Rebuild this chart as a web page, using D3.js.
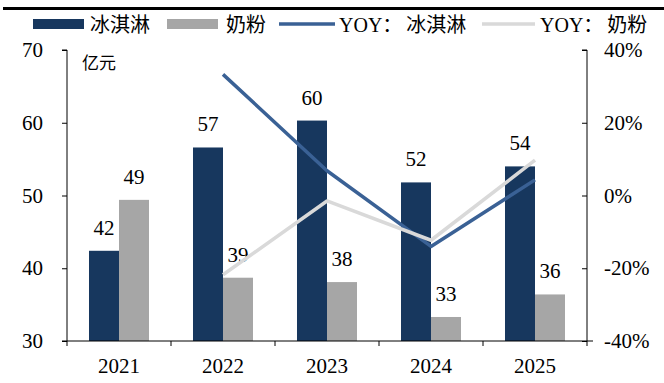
<!DOCTYPE html>
<html>
<head>
<meta charset="utf-8">
<script src="https://cdn.jsdelivr.net/npm/d3@7"></script>
<style>
  html, body { margin: 0; padding: 0; background: #fff; }
  svg { display: block; }
  text { font-family: "Liberation Serif", "Noto Sans CJK SC", serif; fill: #000; }
</style>
</head>
<body>
<svg id="chart" width="664" height="383"></svg>
<script>
// Sales (亿元) by year
const years = ["2021", "2022", "2023", "2024", "2025"];
const iceCream = [42.4, 56.6, 60.3, 51.8, 54.0];
const milkPowder = [49.4, 38.7, 38.1, 33.3, 36.4];
// Year-over-year growth (%)
const iceCreamYoy = [null, 33.3, 6.8, -14.0, 4.3];
const milkPowderYoy = [null, -21.8, -1.5, -12.3, 9.7];
// Axis ticks
const leftTicks = [30, 40, 50, 60, 70];
const rightTicks = [-40, -20, 0, 20, 40];

const seriesNames = ["冰淇淋", "奶粉"];
const colors = { ice: "#17375E", milk: "#A6A6A6", iceLine: "#3A6195", milkLine: "#D9D9D9" };
const numFont = 21;

const svg = d3.select("#chart");
const plot = { left: 67, right: 587, top: 50, bottom: 341 };

const x = d3.scaleBand().domain(years).range([plot.left, plot.right]).padding(0);
const xSub = d3.scaleBand().domain(seriesNames).range([0, x.bandwidth()])
  .paddingInner(0).paddingOuter(0.733);
const y = d3.scaleLinear().domain([30, 70]).range([plot.bottom, plot.top]);
const yR = d3.scaleLinear().domain([-40, 40]).range([plot.bottom, plot.top]);

// Top rule
svg.append("line").attr("x1", 3).attr("x2", 664).attr("y1", 8.5).attr("y2", 8.5)
  .attr("stroke", "#000").attr("stroke-width", 3);

// Bars
const barData = [
  { name: "冰淇淋", values: iceCream, color: colors.ice },
  { name: "奶粉", values: milkPowder, color: colors.milk }
];
barData.forEach(s => {
  svg.append("g").selectAll("rect").data(s.values).join("rect")
    .attr("x", (d, i) => x(years[i]) + xSub(s.name))
    .attr("width", xSub.bandwidth())
    .attr("y", d => y(d))
    .attr("height", d => y(30) - y(d))
    .attr("fill", s.color);
  svg.append("g").selectAll("text").data(s.values).join("text")
    .attr("x", (d, i) => x(years[i]) + xSub(s.name) + xSub.bandwidth() / 2)
    .attr("y", d => y(d) - 16)
    .attr("text-anchor", "middle")
    .attr("font-size", numFont)
    .text(d => d3.format(".0f")(d));
});

// YoY lines
const cx = i => x(years[i]) + x.bandwidth() / 2;
const line = d3.line().defined(d => d.v != null).x(d => cx(d.i)).y(d => yR(d.v));
[[iceCreamYoy, colors.iceLine], [milkPowderYoy, colors.milkLine]].forEach(([vals, c]) => {
  svg.append("path").datum(vals.map((v, i) => ({ v, i })))
    .attr("d", line).attr("fill", "none").attr("stroke", c)
    .attr("stroke-width", 3.5).attr("stroke-linejoin", "round");
});

// Left axis
const gL = svg.append("g").attr("transform", `translate(${plot.left},0)`)
  .call(d3.axisLeft(y).tickValues(leftTicks).tickSize(5).tickPadding(19).tickFormat(d3.format("d")));
gL.select(".domain").attr("d", `M-5,${plot.top}H0V${plot.bottom}`);
gL.selectAll("text").attr("font-size", numFont).attr("font-family", "Liberation Serif");

// Right axis
const gR = svg.append("g").attr("transform", `translate(${plot.right},0)`)
  .call(d3.axisRight(yR).tickValues(rightTicks).tickSize(-5).tickPadding(17).tickFormat(d => d + "%"));
gR.select(".domain").attr("d", `M-5,${plot.top}H0V${plot.bottom}`);
gR.selectAll("text").attr("font-size", numFont).attr("font-family", "Liberation Serif");

// Bottom axis: labels at band centres, ticks at band edges
const gB = svg.append("g").attr("transform", `translate(0,${plot.bottom})`)
  .call(d3.axisBottom(x).tickSize(0).tickPadding(17));
gB.select(".domain").remove();
gB.selectAll("text").attr("font-size", numFont).attr("font-family", "Liberation Serif");
gB.append("line").attr("x1", plot.left - 5).attr("x2", plot.right + 6)
  .attr("stroke", "#000");
const edges = years.map(d => x(d)).concat([plot.right]);
gB.selectAll(".edge").data(edges).join("line").attr("class", "edge")
  .attr("x1", d => d).attr("x2", d => d).attr("y1", 0).attr("y2", 5)
  .attr("stroke", "#000");

// Unit label
svg.append("text").attr("x", 82).attr("y", 69).attr("font-size", 17)
  .attr("font-family", "Noto Sans CJK SC").text("亿元");

// Legend
const lg = svg.append("g").attr("font-size", 20);
lg.append("rect").attr("x", 33).attr("y", 19).attr("width", 51).attr("height", 10).attr("fill", colors.ice);
lg.append("text").attr("x", 90).attr("y", 32).text("冰淇淋");
lg.append("rect").attr("x", 167).attr("y", 19).attr("width", 51).attr("height", 10).attr("fill", colors.milk);
lg.append("text").attr("x", 226).attr("y", 32).text("奶粉");
lg.append("line").attr("x1", 279).attr("x2", 335).attr("y1", 24).attr("y2", 24)
  .attr("stroke", colors.iceLine).attr("stroke-width", 3.5);
lg.append("text").attr("x", 339).attr("y", 32).text("YOY：").append("tspan").attr("dx", 4).text("冰淇淋");
lg.append("line").attr("x1", 482).attr("x2", 535).attr("y1", 24).attr("y2", 24)
  .attr("stroke", colors.milkLine).attr("stroke-width", 3.5);
lg.append("text").attr("x", 540).attr("y", 32).text("YOY：").append("tspan").attr("dx", 4).text("奶粉");
</script>
</body>
</html>
